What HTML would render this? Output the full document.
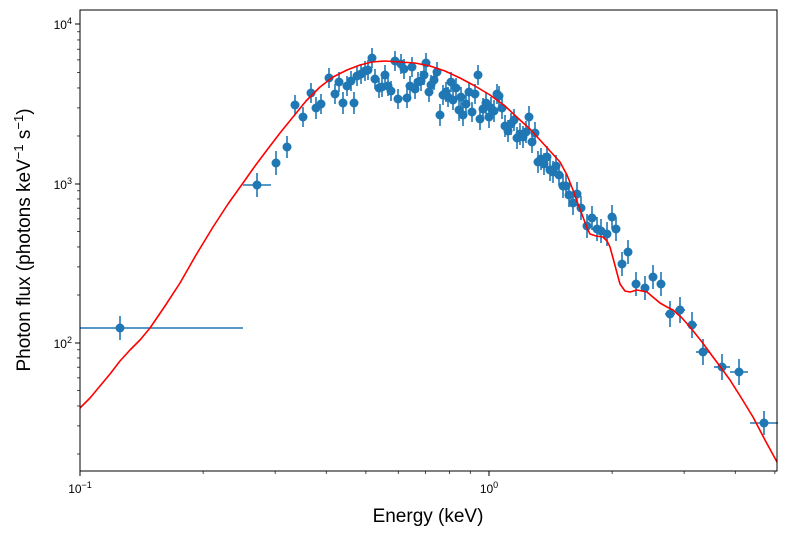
<!DOCTYPE html>
<html><head><meta charset="utf-8"><style>body{margin:0;background:#fff}svg{display:block;font-family:"Liberation Sans","DejaVu Sans",sans-serif}</style></head><body>
<svg width="787" height="535" viewBox="0 0 787 535">
<rect width="787" height="535" fill="#fff"/>
<g stroke="#1f77b4" stroke-width="1.6" fill="#1f77b4" id="d"></g>
<polyline fill="none" stroke="#ff0000" stroke-width="1.6" stroke-linejoin="round" points="80,408 90,398 100,386 110,374 120,361 130,350 140,340 150,328 165,306 180,283 196,255 213,227 228,204 243,183 255,166 267,150 280,133 293,117 306,101 320,87 333,77 347,70 360,65 372,62 385,61 400,62 415,63 430,66 445,71 460,78 475,86 490,95 505,106 520,120 530,129 540,140 550,151 560,162 567,175 573,190 578,204 583,217 587,228 590,234 596,236 603,237 607,241 610,247 613,258 617,273 620,284 625,291 630,292 637,290 647,292 654,298 660,303 667,307 673,310 682,318 690,327 702,342 713,357 722,369 730,380 742,399 753,417 765,440 777,462"/>
<rect x="80" y="10" width="697" height="461" fill="none" stroke="#000" stroke-width="1"/>
<g stroke="#000" stroke-width="1">
<line x1="80" y1="471" x2="80" y2="476"/><line x1="489" y1="471" x2="489" y2="476"/>
<line x1="75" y1="24" x2="80" y2="24"/><line x1="75" y1="184" x2="80" y2="184"/><line x1="75" y1="343" x2="80" y2="343"/>
</g>
<g stroke="#000" stroke-width="0.7" id="mt"></g>
<g font-size="12" fill="#000">
<text x="80" y="493" text-anchor="middle">10<tspan dy="-5" font-size="9">−1</tspan></text>
<text x="489" y="493" text-anchor="middle">10<tspan dy="-5" font-size="9">0</tspan></text>
<text x="72" y="29" text-anchor="end">10<tspan dy="-5" font-size="9">4</tspan></text>
<text x="72" y="189" text-anchor="end">10<tspan dy="-5" font-size="9">3</tspan></text>
<text x="72" y="348" text-anchor="end">10<tspan dy="-5" font-size="9">2</tspan></text>
</g>
<text x="428" y="522" font-size="19" text-anchor="middle">Energy (keV)</text>
<text transform="translate(30,240) rotate(-90)" font-size="19" text-anchor="middle">Photon flux (photons keV<tspan dy="-7" font-size="13">−1</tspan><tspan dy="7"> s</tspan><tspan dy="-7" font-size="13">−1</tspan><tspan dy="7">)</tspan></text>
<script>
var NS="http://www.w3.org/2000/svg",g=document.getElementById('d');
var P=[[120,328,40,12,122],[257,185,14,12],[276,163,4,12],[287,147,3,11],[295,105,3,10],[303,117,3,10],[311,93,3,10],[316,108,3,11],[321,104,3,10],[329,78,3,10],[335,94,3,10],[339,82,3,10],[343,103,3,11],[347,86,3,10],[351,81,3,10],[354,103,3,11],[357,76,3,10],[361,74,3,10],[365,71,3,10],[368,70,3,10],[372,58,3,10],[375,79,3,10],[379,88,3,10],[382,87,3,10],[385,75,3,10],[388,86,3,10],[391,91,3,10],[395,61,3,10],[398,99,3,10],[401,64,3,10],[404,69,3,10],[407,98,3,10],[410,86,3,10],[412,67,3,10],[415,89,3,10],[418,82,3,10],[421,81,3,10],[424,75,3,10],[426,63,3,10],[429,92,3,10],[431,85,3,10],[434,80,3,10],[437,72,3,10],[440,115,3,11],[443,95,3,10],[446,92,3,10],[448,97,3,10],[451,82,3,10],[453,100,3,10],[456,88,3,10],[459,110,3,11],[461,97,3,10],[463,115,3,11],[466,104,3,11],[469,92,3,10],[472,112,3,10],[475,94,3,10],[478,75,3,10],[480,119,3,11],[483,109,3,11],[486,103,3,11],[489,117,3,11],[491,108,3,11],[494,111,3,11],[497,94,3,10],[499,96,3,10],[502,108,3,11],[505,126,3,11],[508,131,3,11],[511,124,3,11],[514,120,3,11],[517,138,3,11],[520,134,3,11],[523,137,3,11],[526,132,3,11],[529,117,3,11],[532,142,3,11],[535,133,3,11],[538,162,3,11],[541,159,3,11],[544,164,3,11],[547,157,3,11],[550,170,3,11],[553,172,3,11],[556,166,3,11],[559,175,3,11],[563,186,3,12],[566,186,3,12],[569,195,3,12],[573,203,3,12],[577,194,3,12],[581,208,3,12],[587,226,4,12],[592,218,4,12],[597,229,4,12],[601,231,4,12],[607,234,4,12],[612,217,4,12],[616,229,4,12],[622,264,4,12],[628,252,4,12],[636,284,4,12],[645,288,4,12],[653,277,4,12],[661,284,4,12],[670,314,5,13],[680,310,5,13],[692,325,5,13],[703,352,7,13],[722,367,8,13],[739,372,9,13],[764,423,14,12]];
P.forEach(function(p){var x1=p[0]-p[2],x2=p[0]+p[2];if(p[4]){x1=80;x2=243;}var l=document.createElementNS(NS,'line');l.setAttribute('x1',x1);l.setAttribute('x2',x2);l.setAttribute('y1',p[1]);l.setAttribute('y2',p[1]);g.appendChild(l);
l=document.createElementNS(NS,'line');l.setAttribute('x1',p[0]);l.setAttribute('x2',p[0]);l.setAttribute('y1',p[1]-p[3]);l.setAttribute('y2',p[1]+p[3]);g.appendChild(l);
var c=document.createElementNS(NS,'circle');c.setAttribute('cx',p[0]);c.setAttribute('cy',p[1]);c.setAttribute('r',4.5);c.setAttribute('stroke','none');g.appendChild(c);});
var m=document.getElementById('mt');
function L(a,b,c,d){var l=document.createElementNS(NS,'line');l.setAttribute('x1',a);l.setAttribute('y1',b);l.setAttribute('x2',c);l.setAttribute('y2',d);m.appendChild(l);}
for(var k=2;k<=9;k++){var x=80+409*Math.log10(k);L(x,471,x,474);x=489+409*Math.log10(k);if(x<777)L(x,471,x,474);}
for(var k=2;k<=9;k++){var y=184-159.5*Math.log10(k);L(77,y,80,y);y=343-159.5*Math.log10(k);L(77,y,80,y);y=502-159.5*Math.log10(k);if(y<471)L(77,y,80,y);}
</script>
</svg>
</body></html>
